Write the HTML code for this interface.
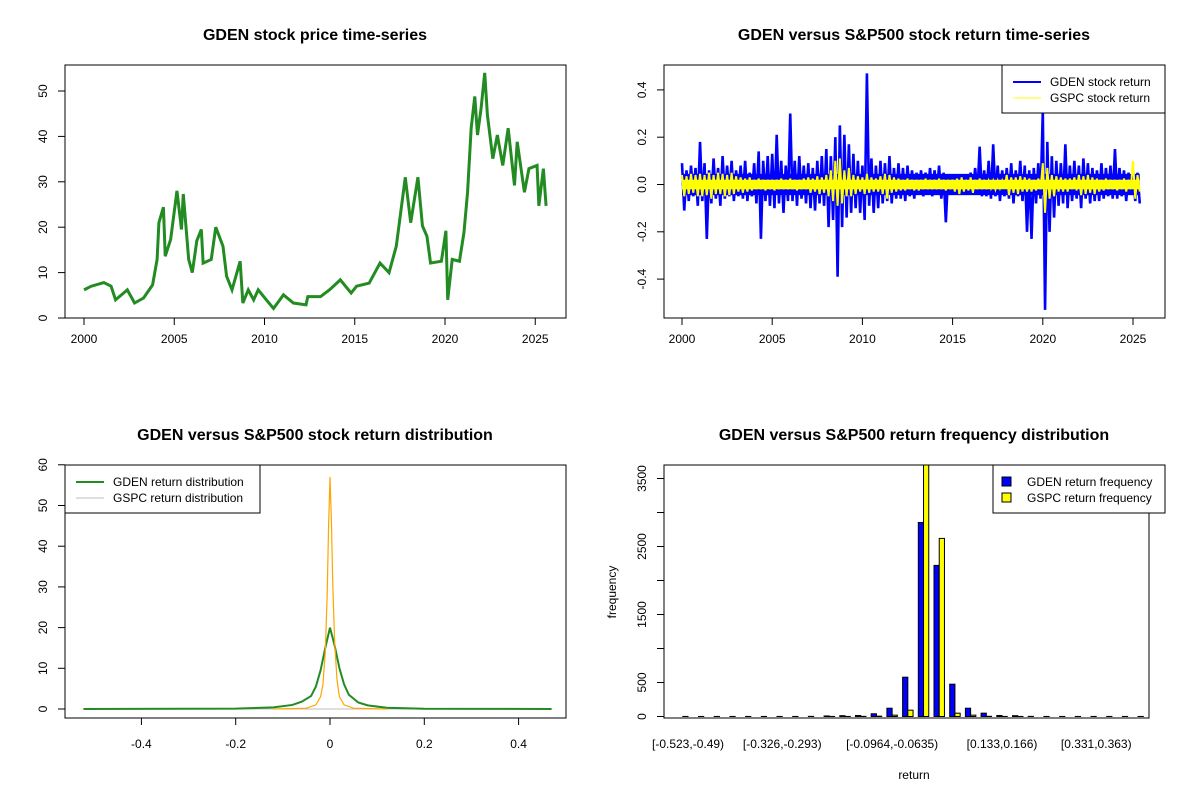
<!DOCTYPE html>
<html><head><meta charset="utf-8"><style>
body{margin:0;background:#fff}
svg text{font-family:"Liberation Sans",Arial,sans-serif;fill:#000}
.t{font-size:16px;font-weight:bold}
.k{font-size:12px}
</style></head><body>
<svg id="c" width="1200" height="800" xmlns="http://www.w3.org/2000/svg"></svg>
<script>
// ---- price data (year, price)
const priceYears=[2000.0,2000.4,2001.1,2001.5,2001.75,2002.4,2002.8,2003.3,2003.8,2004.05,2004.15,2004.4,2004.5,2004.8,2005.15,2005.4,2005.5,2005.8,2006.0,2006.25,2006.5,2006.6,2007.05,2007.3,2007.7,2007.9,2008.2,2008.65,2008.8,2009.1,2009.4,2009.65,2010.1,2010.5,2011.05,2011.6,2012.3,2012.4,2013.1,2013.6,2014.2,2014.8,2015.1,2015.8,2016.4,2016.9,2017.3,2017.8,2018.1,2018.5,2018.75,2019.0,2019.2,2019.8,2020.05,2020.15,2020.4,2020.8,2021.05,2021.25,2021.45,2021.65,2021.8,2022.0,2022.2,2022.35,2022.65,2022.9,2023.2,2023.5,2023.85,2024.0,2024.4,2024.65,2025.1,2025.2,2025.45,2025.6];
const priceVals=[6.2,7,7.8,7,4,6.2,3.3,4.4,7.3,12.9,21,24.4,13.6,17.3,28,19.5,27.3,12.9,10,17,19.5,12.1,12.9,20,15.8,9.2,6.2,12.5,3.3,6.2,4,6.2,4,2.1,5.1,3.3,2.9,4.7,4.7,6.2,8.4,5.5,7,7.7,12.1,10,15.8,31,21,31,20.3,18,12.1,12.5,19.2,4,12.9,12.5,18.8,27.7,41.8,48.8,40.3,46.2,54,44.7,35.1,40.3,33.6,41.8,29.2,38.8,27.7,32.9,33.6,24.7,32.9,24.7];
const priceYTicks=[0,10,20,30,40,50];
const yearTicks=[2000,2005,2010,2015,2020,2025];
// ---- returns data (8 observations per year, starting 2000)
const gdenReturns=[
0.09,-0.11,0.06,-0.07,0.08,-0.05,0.07,-0.09,
0.18,-0.07,0.09,-0.23,0.06,-0.08,0.11,-0.06,
0.07,-0.09,0.12,-0.06,0.08,-0.05,0.1,-0.07,
0.06,-0.05,0.08,-0.06,0.1,-0.07,0.05,-0.05,
0.09,-0.08,0.14,-0.23,0.1,-0.07,0.12,-0.09,
0.13,-0.1,0.21,-0.08,0.1,-0.12,0.08,-0.07,
0.3,-0.07,0.1,-0.09,0.12,-0.06,0.08,-0.08,
0.09,-0.1,0.07,-0.11,0.1,-0.08,0.12,-0.09,
0.15,-0.18,0.12,-0.15,0.2,-0.39,0.25,-0.18,
0.21,-0.14,0.17,-0.12,0.13,-0.1,0.1,-0.12,
0.08,-0.15,0.47,-0.09,0.11,-0.12,0.08,-0.1,
0.1,-0.08,0.09,-0.07,0.12,-0.08,0.07,-0.06,
0.09,-0.06,0.07,-0.07,0.08,-0.05,0.06,-0.06,
0.05,-0.04,0.06,-0.05,0.05,-0.04,0.07,-0.05,
0.06,-0.04,0.08,-0.06,0.05,-0.16,0.04,-0.04,
0.02,-0.02,0.03,-0.02,0.03,-0.03,0.04,-0.02,
0.05,-0.04,0.07,-0.04,0.16,-0.05,0.06,-0.05,
0.1,-0.06,0.17,-0.05,0.08,-0.07,0.06,-0.05,
0.07,-0.06,0.09,-0.08,0.06,-0.05,0.1,-0.07,
0.08,-0.2,0.06,-0.23,0.07,-0.08,0.09,-0.06,
0.31,-0.53,0.18,-0.2,0.12,-0.14,0.1,-0.09,
0.09,-0.08,0.17,-0.1,0.08,-0.07,0.1,-0.06,
0.08,-0.1,0.11,-0.06,0.09,-0.08,0.07,-0.07,
0.06,-0.07,0.09,-0.06,0.07,-0.05,0.08,-0.06,
0.15,-0.06,0.07,-0.05,0.06,-0.07,0.05,-0.04,
0.06,-0.07,0.05,-0.08];
const gspcReturns=[
.04,-.05,.035,-.04,.045,-.035,.04,-.05,
.045,-.05,.04,-.045,.05,-.06,.04,-.04,
.05,-.04,.045,-.05,.04,-.045,.05,-.04,
.035,-.03,.03,-.035,.025,-.03,.03,-.025,
.02,-.02,.025,-.02,.02,-.025,.02,-.02,
.02,-.025,.02,-.02,.025,-.02,.02,-.02,
.025,-.02,.02,-.025,.02,-.02,.025,-.02,
.03,-.035,.025,-.03,.035,-.04,.03,-.035,
.04,-.05,.06,-.07,.1,-.09,.11,-.08,
.06,-.05,.07,-.05,.04,-.04,.035,-.03,
.03,-.04,.045,-.035,.03,-.03,.025,-.03,
.035,-.04,.045,-.06,.04,-.035,.03,-.03,
.025,-.025,.02,-.025,.025,-.02,.02,-.025,
.02,-.025,.02,-.02,.025,-.02,.02,-.02,
.02,-.02,.025,-.02,.02,-.025,.02,-.02,
.02,-.03,.025,-.04,.03,-.03,.02,-.025,
.03,-.035,.02,-.02,.025,-.02,.02,-.02,
.015,-.015,.015,-.02,.015,-.015,.015,-.015,
.04,-.045,.03,-.035,.03,-.04,.035,-.03,
.03,-.03,.025,-.03,.02,-.025,.025,-.02,
.09,-.12,.07,-.06,.04,-.05,.035,-.03,
.03,-.03,.025,-.03,.025,-.02,.03,-.025,
.04,-.045,.035,-.04,.04,-.035,.03,-.04,
.025,-.03,.02,-.025,.025,-.02,.02,-.02,
.02,-.025,.02,-.02,.025,-.03,.02,-.02,
.1,-.06,.04,-.03];
const obsPerYear=8;
const gdenCore=0.045, gspcCore=0.02;
const retYTicks=[-0.4,-0.2,0.0,0.2,0.4];
// ---- densities
const gdenDX=[-0.523,-0.2,-0.12,-0.08,-0.06,-0.04,-0.03,-0.02,-0.01,0,0.01,0.02,0.03,0.04,0.06,0.08,0.12,0.2,0.47];
const gdenDY=[0,0.1,0.4,1.0,1.8,3.2,5.5,9.5,15,20,15.5,10,6,3.5,1.6,0.9,0.3,0.05,0];
const gspcDX=[-0.12,-0.05,-0.03,-0.02,-0.015,-0.01,-0.006,-0.003,0,0.003,0.006,0.01,0.015,0.02,0.03,0.05,0.12];
const gspcDY=[0,0.2,1,3,6,14,28,45,57,46,30,16,7,3,1,0.2,0];
const densXTicks=[-0.4,-0.2,0,0.2,0.4];
const densYTicks=[0,10,20,30,40,50,60];
// ---- histogram
const gdenCounts=[1,1,1,1,1,1,1,1,2,8,12,15,40,122,578,2853,2222,475,122,49,15,12,2,1,1,1,1,1,1,1];
const gspcCounts=[0,0,0,0,0,0,0,0,0,1,1,2,5,20,93,3900,2619,49,20,3,1,1,0,0,0,0,0,0,0,0];
const binLabels=["[-0.523,-0.49)","","","","","","[-0.326,-0.293)","","","","","","","[-0.0964,-0.0635)","","","","","","","[0.133,0.166)","","","","","","[0.331,0.363)","","",""];
const histYTicks=[0,500,1000,1500,2000,2500,3000,3500];
const histYLabels=["0","500","","1500","","2500","","3500"];

const svg=document.getElementById('c');
const NS='http://www.w3.org/2000/svg';
function el(tag,a,parent){const e=document.createElementNS(NS,tag);for(const k in a)e.setAttribute(k,a[k]);(parent||svg).appendChild(e);return e;}
function txt(x,y,s,cls,anchor,rot,parent){const t=el('text',{x:x,y:y,class:cls,'text-anchor':anchor||'middle'},parent);if(rot)t.setAttribute('transform','rotate(-90 '+x+' '+y+')');t.textContent=s;return t;}
function clip(id,x,y,w,h){const c=el('clipPath',{id:id});el('rect',{x:x,y:y,width:w,height:h},c);}

// ===== Plot 1
const g1=el('g',{});


const x1=y=>84+(y-2000)*18.05, y1=v=>318-v*4.54;
clip('cp1',65,65,501,253);
let t=txt(315,40,'GDEN stock price time-series','t');

let pl=el('polyline',{points:priceYears.map((y,i)=>x1(y)+','+y1(priceVals[i])).join(' '),fill:'none',stroke:'#228B22','stroke-width':3,'clip-path':'url(#cp1)'},g1);

el('rect',{x:65,y:65,width:501,height:253,fill:'none',stroke:'#000'},g1);
yearTicks.forEach(y=>{el('line',{x1:x1(y),x2:x1(y),y1:318,y2:325,stroke:'#000'},g1);txt(x1(y),343,String(y),'k','middle',false,g1);});
priceYTicks.forEach(v=>{el('line',{x1:58,x2:65,y1:y1(v),y2:y1(v),stroke:'#000'},g1);txt(47,y1(v),String(v),'k','middle',true,g1);});

// ===== Plot 2
const g2=el('g',{});


const x2=y=>682+(y-2000)*18.04, y2=v=>184.5-v*236.5;
clip('cp2',664,65,501,253);
t=txt(914,40,'GDEN versus S&P500 stock return time-series','t');

const yrOf=i=>2000+i/obsPerYear;
let rl=el('polyline',{points:gdenReturns.map((r,i)=>x2(yrOf(i))+','+y2(r)).join(' '),fill:'none',stroke:'#0000FF','stroke-width':2.6,'clip-path':'url(#cp2)'},g2);

let core=el('rect',{x:x2(2000),y:y2(gdenCore),width:x2(yrOf(gdenReturns.length-1))-x2(2000),height:y2(-gdenCore)-y2(gdenCore),fill:'#0000FF'},g2);

rl=el('polyline',{points:gspcReturns.map((r,i)=>x2(yrOf(i))+','+y2(r)).join(' '),fill:'none',stroke:'#FFFF00','stroke-width':2},g2);

core=el('rect',{x:x2(2000),y:y2(gspcCore),width:x2(yrOf(gspcReturns.length-1))-x2(2000),height:y2(-gspcCore)-y2(gspcCore),fill:'#FFFF00'},g2);

el('rect',{x:664,y:65,width:501,height:253,fill:'none',stroke:'#000'},g2);
yearTicks.forEach(y=>{el('line',{x1:x2(y),x2:x2(y),y1:318,y2:325,stroke:'#000'},g2);txt(x2(y),343,String(y),'k','middle',false,g2);});
retYTicks.forEach(v=>{el('line',{x1:657,x2:664,y1:y2(v),y2:y2(v),stroke:'#000'},g2);txt(646,y2(v),v.toFixed(1),'k','middle',true,g2);});
let lg=el('g',{},g2);
el('rect',{x:1002,y:65,width:163,height:48,fill:'#fff',stroke:'#000'},lg);
el('line',{x1:1013,x2:1041,y1:82,y2:82,stroke:'#0000FF','stroke-width':2},lg);
el('line',{x1:1013,x2:1041,y1:98,y2:98,stroke:'#FFFF00','stroke-width':1},lg);
txt(1050,86,'GDEN stock return','k','start',false,lg);txt(1050,102,'GSPC stock return','k','start',false,lg);

// ===== Plot 3
const g3=el('g',{});


const x3=v=>330+v*471.5, y3=v=>709-v*4.07;
t=txt(315,440,'GDEN versus S&P500 stock return distribution','t');

el('line',{x1:x3(-0.523),x2:x3(0.47),y1:y3(0),y2:y3(0),stroke:'#bebebe'},g3);
let d1=el('polyline',{points:gdenDX.map((x,i)=>x3(x)+','+y3(gdenDY[i])).join(' '),fill:'none',stroke:'#228B22','stroke-width':2},g3);

let d2=el('polyline',{points:gspcDX.map((x,i)=>x3(x)+','+y3(gspcDY[i])).join(' '),fill:'none',stroke:'#FFA500','stroke-width':1.2},g3);

el('rect',{x:65,y:465,width:501,height:253,fill:'none',stroke:'#000'},g3);
densXTicks.forEach(v=>{el('line',{x1:x3(v),x2:x3(v),y1:718,y2:725,stroke:'#000'},g3);txt(x3(v),748,String(v),'k','middle',false,g3);});
densYTicks.forEach(v=>{el('line',{x1:58,x2:65,y1:y3(v),y2:y3(v),stroke:'#000'},g3);txt(47,y3(v),String(v),'k','middle',true,g3);});
lg=el('g',{},g3);
el('rect',{x:65,y:465,width:195,height:48,fill:'#fff',stroke:'#000'},lg);
el('line',{x1:76,x2:104,y1:482,y2:482,stroke:'#228B22','stroke-width':2},lg);
el('line',{x1:76,x2:104,y1:498,y2:498,stroke:'#bebebe'},lg);
txt(113,486,'GDEN return distribution','k','start',false,lg);txt(113,502,'GSPC return distribution','k','start',false,lg);

// ===== Plot 4
const g4=el('g',{});


const u=5.23, bx=i=>682.8+15.7*i, y4=v=>716.5-v*0.068;
clip('cp4',664,465,485,253);
t=txt(914,440,'GDEN versus S&P500 return frequency distribution','t');

gdenCounts.forEach((c,i)=>{const r=el('rect',{x:bx(i),y:y4(c),width:u,height:Math.max(0,y4(0)-y4(c)),fill:'#0000FF',stroke:'#000','stroke-width':1,'clip-path':'url(#cp4)'},g4);
});
gspcCounts.forEach((c,i)=>{const r=el('rect',{x:bx(i)+u,y:y4(c),width:u,height:Math.max(0,y4(0)-y4(c)),fill:'#FFFF00',stroke:'#000','stroke-width':1,'clip-path':'url(#cp4)'},g4);
});
el('rect',{x:664,y:465,width:485,height:253,fill:'none',stroke:'#000'},g4);
histYTicks.forEach((v,i)=>{el('line',{x1:657,x2:664,y1:y4(v),y2:y4(v),stroke:'#000'},g4);if(histYLabels[i])txt(646,y4(v),histYLabels[i],'k','middle',true,g4);});
binLabels.forEach((s,i)=>{if(s)txt(bx(i)+u,748,s,'k','middle',false,g4);});
txt(914,779,'return','k','middle',false,g4);txt(616,592,'frequency','k','middle',true,g4);
lg=el('g',{},g4);
el('rect',{x:993,y:465,width:172,height:48,fill:'#fff',stroke:'#000'},lg);
el('rect',{x:1002,y:477,width:9,height:9,fill:'#0000FF',stroke:'#000'},lg);
el('rect',{x:1002,y:493,width:9,height:9,fill:'#FFFF00',stroke:'#000'},lg);
txt(1027,486,'GDEN return frequency','k','start',false,lg);txt(1027,502,'GSPC return frequency','k','start',false,lg);
</script>
</body></html>
